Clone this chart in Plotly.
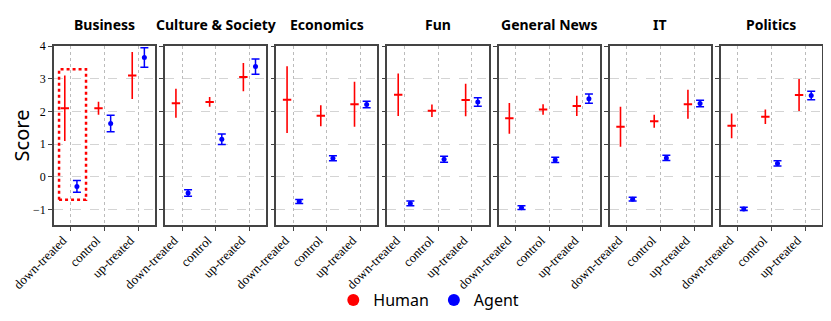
import plotly.graph_objects as go
from plotly.subplots import make_subplots

topics = ['Business', 'Culture & Society', 'Economics', 'Fun', 'General News', 'IT', 'Politics']
conditions = ['down-treated', 'control', 'up-treated']

# mean score and error per topic, in condition order
human_mean = [[2.10, 2.10, 3.10], [2.25, 2.29, 3.05], [2.36, 1.87, 2.22], [2.51, 2.02, 2.35],
              [1.79, 2.06, 2.17], [1.53, 1.70, 2.22], [1.56, 1.84, 2.50]]
human_err = [[1.00, 0.20, 0.72], [0.44, 0.15, 0.43], [1.02, 0.32, 0.69], [0.65, 0.19, 0.50],
             [0.47, 0.16, 0.31], [0.61, 0.20, 0.44], [0.38, 0.22, 0.49]]
agent_mean = [[-0.29, 1.63, 3.65], [-0.49, 1.15, 3.37], [-0.75, 0.57, 2.21], [-0.81, 0.54, 2.29],
              [-0.94, 0.52, 2.39], [-0.68, 0.58, 2.24], [-0.98, 0.41, 2.49]]
agent_err = [[0.18, 0.25, 0.30], [0.10, 0.16, 0.23], [0.06, 0.08, 0.10], [0.07, 0.09, 0.13],
             [0.06, 0.08, 0.14], [0.06, 0.08, 0.10], [0.05, 0.08, 0.13]]

offset = 0.18

fig = make_subplots(rows=1, cols=7, shared_yaxes=True, horizontal_spacing=0.013,
                    subplot_titles=topics)

for i in range(7):
    col = i + 1
    fig.add_trace(go.Scatter(
        x=[k - offset for k in range(3)], y=human_mean[i], mode='markers',
        marker=dict(symbol='line-ew', size=6, color='red', line=dict(width=2, color='red')),
        error_y=dict(type='data', array=human_err[i], color='red', thickness=1.6, width=0),
        showlegend=False), row=1, col=col)
    fig.add_trace(go.Scatter(
        x=[k + offset for k in range(3)], y=agent_mean[i], mode='markers',
        marker=dict(symbol='circle', size=5, color='blue'),
        error_y=dict(type='data', array=agent_err[i], color='blue', thickness=1.5, width=4),
        showlegend=False), row=1, col=col)
    fig.update_xaxes(row=1, col=col, range=[-0.5, 2.5], tickvals=[0, 1, 2], ticktext=conditions,
                     tickangle=-45, showgrid=True, gridcolor='#bbbbbb', griddash='dot',
                     showline=True, mirror=True, linecolor='#444', linewidth=1.5,
                     ticks='outside', ticklen=4, tickcolor='#444', zeroline=False,
                     automargin=False, ticklabelstandoff=-3, ticklabelshift=-8,
                     tickfont=dict(family='Liberation Serif', size=13, color='black'))
    fig.update_yaxes(row=1, col=col, range=[-1.47, 4], tickvals=[-1, 0, 1, 2, 3, 4],
                     showgrid=True, gridcolor='#d4d4d4', griddash='dash',
                     showline=True, mirror=True, linecolor='#444', linewidth=1.5,
                     ticks='outside', ticklen=4, tickcolor='#444', zeroline=False,
                     automargin=False,
                     tickfont=dict(family='Liberation Serif', size=12, color='black'))

# legend entries
fig.add_trace(go.Scatter(x=[None], y=[None], mode='markers', name='Human',
                         marker=dict(symbol='circle', size=12, color='red')))
fig.add_trace(go.Scatter(x=[None], y=[None], mode='markers', name='Agent',
                         marker=dict(symbol='circle', size=12, color='blue')))

# highlight box around Business down-treated
fig.add_shape(type='rect', xref='x', yref='y', x0=-0.35, x1=0.45, y0=-0.70, y1=3.29,
              line=dict(color='red', width=2.5, dash='dot'))

fig.update_yaxes(title_text='Score', title_font=dict(family='Noto Sans', size=20, color='black'),
                 title_standoff=13, row=1, col=1)

for ann in fig.layout.annotations:
    ann.font = dict(family='Noto Sans', size=14, color='black', weight='bold')
    ann.yshift = 10

fig.update_layout(
    width=831, height=321,
    margin=dict(l=46, r=17, t=38, b=98),
    plot_bgcolor='white', paper_bgcolor='white',
    legend=dict(orientation='h', x=0.488, xanchor='center', y=-0.42, yanchor='middle',
                bgcolor='rgba(0,0,0,0)',
                font=dict(family='Noto Sans', size=16, color='black'), itemwidth=30),
)

fig.write_html("out.html")
